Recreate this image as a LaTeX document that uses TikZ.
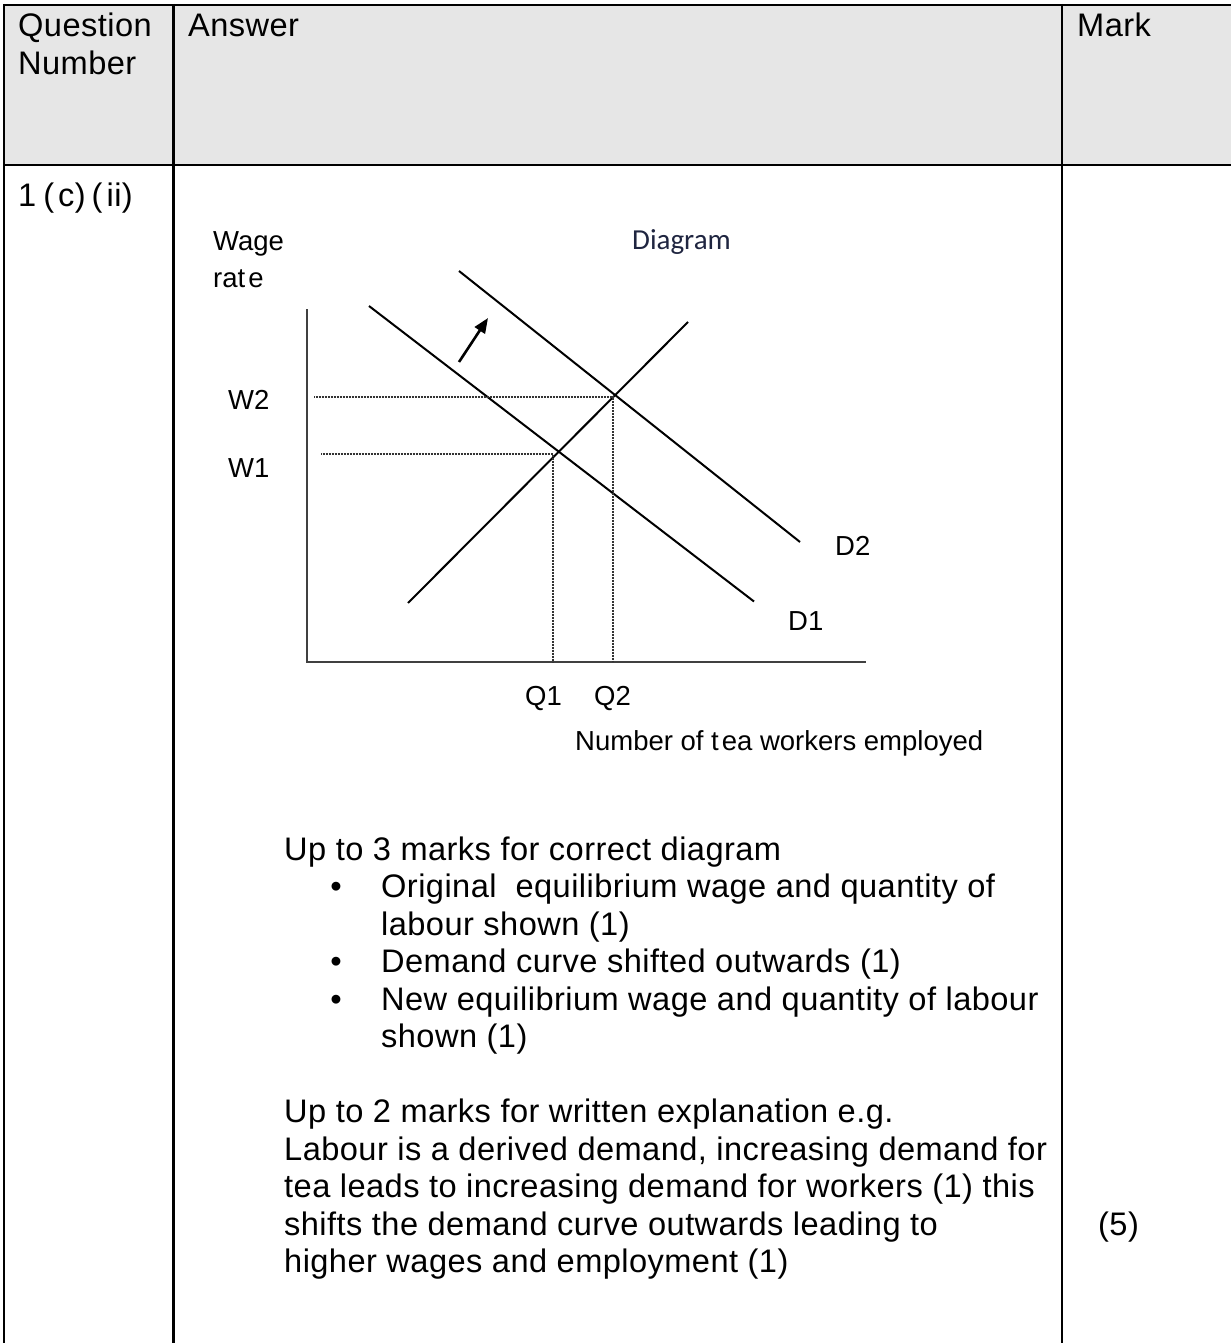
\documentclass[tikz,border=0pt]{standalone}
\usepackage{fontspec}
\setmainfont{Liberation Sans}
\newfontfamily\bodyfont[LetterSpace=1.35]{Liberation Sans}
\newfontfamily\calib{Carlito}
\usetikzlibrary{arrows.meta}
\definecolor{hdr}{HTML}{E6E6E6}
\definecolor{navy}{HTML}{1F2540}
\begin{document}
\begin{tikzpicture}[x=1pt,y=-1pt,
  tline/.style={line width=2.2pt,black},
  body/.style={anchor=base west,inner sep=0pt,font=\bodyfont\fontsize{32.6}{37.5}\selectfont},
  bul/.style={anchor=base,inner sep=0pt,font=\bodyfont\fontsize{32.6}{37.5}\selectfont},
  lab/.style={anchor=base west,inner sep=0pt,font=\fontsize{27.5}{33}\selectfont},
  curve/.style={line width=2pt,black},
  guide/.style={line width=1.3pt,black!80,dash pattern=on 0.9pt off 0.6pt},
  axisline/.style={line width=2.6pt,black!75},
  shiftarrow/.style={line width=2.6pt,black,-{Triangle[length=15pt,width=12pt]}}]
\useasboundingbox (0,0) rectangle (1231,1343);
% table
\fill[hdr] (4.3,5) rectangle (1231,165);
\draw[tline] (3.2,5) -- (1231,5);
\draw[tline] (3.2,165) -- (1231,165);
\draw[tline] (4.3,4) -- (4.3,1343);
\draw[tline] (173.5,4) -- (173.5,1343);
\draw[tline] (1062,4) -- (1062,1343);
% header
\node[body] (hq1) at (18,37) {Question};
\node[body] (hq2) at (18,75) {Number};
\node[body] (ha) at (188,37) {Answer};
\node[body] (hm) at (1077,37) {Mark};
\node[body] (qn) at (18,206) {1\kern7pt(\kern4pt c)\kern6pt(\kern4pt ii)};
% diagram
\coordinate (yt) at (307,309);
\coordinate (o) at (307,662);
\coordinate (xr) at (866,662);
\draw[axisline] (yt) -- (o) -- (xr);
\coordinate (s1) at (408,603);
\coordinate (s2) at (688,322);
\coordinate (d1a) at (369,306);
\coordinate (d1b) at (754,601.5);
\coordinate (d2a) at (459,271);
\coordinate (d2b) at (800,542);
\draw[curve] (s1) -- (s2);
\draw[curve] (d1a) -- (d1b);
\draw[curve] (d2a) -- (d2b);
\coordinate (w2s) at (314,397);
\coordinate (e2) at (613,397);
\coordinate (q2b) at (613,662);
\coordinate (w1s) at (321,454);
\coordinate (e1) at (553,454);
\coordinate (q1b) at (553,662);
\draw[guide] (w2s) -- (e2) -- (q2b);
\draw[guide] (w1s) -- (e1) -- (q1b);
\coordinate (at) at (459,362);
\coordinate (ah) at (488,318);
\draw[shiftarrow] (at) -- (ah);
\node[lab] (wage) at (213,250) {Wage};
\node[lab] (rate) at (213,287) {rat\kern3pt e};
\node[anchor=base west,inner sep=0pt,font=\calib\fontsize{29}{34}\selectfont,text=navy] (dg) at (632,249) {Diagram};
\node[lab] (lw2) at (228,409) {W2};
\node[lab] (lw1) at (228,477) {W1};
\node[lab] (ld2) at (835,555) {D2};
\node[lab] (ld1) at (788,630) {D1};
\node[lab] (lq1) at (525,705) {Q1};
\node[lab] (lq2) at (594,705) {Q2};
\node[lab] (lx) at (575,750) {Number of t\kern3pt ea workers employed};
% body text
\node[body] (t0) at (284,860) {Up to 3 marks for correct diagram};
\node[bul] (b1) at (336,897.5) {•};
\node[body] (t1) at (381,897.5) {Original\ \ equilibrium wage and quantity of};
\node[body] (t2) at (381,935) {labour shown (1)};
\node[bul] (b2) at (336,972.5) {•};
\node[body] (t3) at (381,972.5) {Demand curve shifted outwards (1)};
\node[bul] (b3) at (336,1010) {•};
\node[body] (t4) at (381,1010) {New equilibrium wage and quantity of labour};
\node[body] (t5) at (381,1047.5) {shown (1)};
\node[body] (t6) at (284,1122.5) {Up to 2 marks for written explanation e.g.};
\node[body] (t7) at (284,1160) {Labour is a derived demand, increasing demand for};
\node[body] (t8) at (284,1197.5) {tea leads to increasing demand for workers (1) this};
\node[body] (t9) at (284,1235) {shifts the demand curve outwards leading to};
\node[body] (t10) at (284,1272.5) {higher wages and employment (1)};
\node[body] (mk) at (1098,1235) {(5)};
\end{tikzpicture}
\end{document}
